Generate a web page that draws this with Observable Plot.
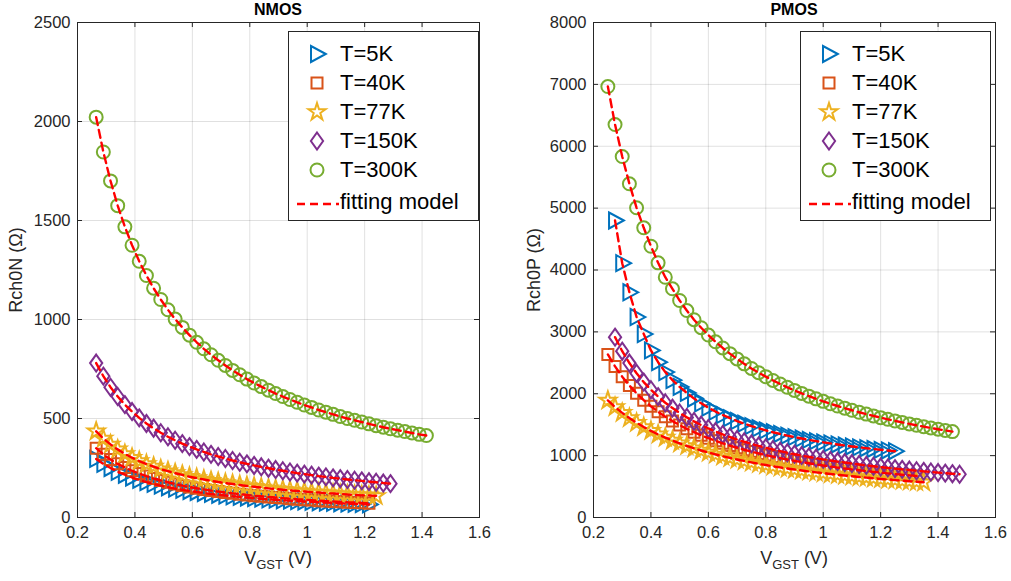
<!DOCTYPE html>
<html>
<head>
<meta charset="utf-8">
<script src="https://cdn.jsdelivr.net/npm/d3@7"></script>
<script src="https://cdn.jsdelivr.net/npm/@observablehq/plot@0.6"></script>
<style>
  body { margin: 0; background: #fff; font-family: "Liberation Sans", Arial, sans-serif; color: #262626; }
  #wrap { position: relative; width: 1011px; height: 581px; overflow: hidden; }
  .panel { position: absolute; top: 0; }
  .title { position: absolute; top: 1px; font-weight: bold; font-size: 16px; transform: translateX(-50%); color: #000; }
  .ylab { position: absolute; font-size: 18px; white-space: nowrap; transform: translate(-50%, -50%) rotate(-90deg); }
  .xlab { position: absolute; top: 548px; font-size: 18px; white-space: nowrap; transform: translateX(-50%); }
  .xlab sub { font-size: 13px; vertical-align: -5px; }
  .legend { position: absolute; border: 1px solid #262626; background: #fff; box-sizing: border-box; }
  .legend svg { position: absolute; left: 0; top: 0; }
</style>
</head>
<body>
<div id="wrap"></div>
<script>
// ---------------- data ----------------
const xTicks = [0.2, 0.4, 0.6, 0.8, 1.0, 1.2, 1.4, 1.6];
const yTicksN = [0, 500, 1000, 1500, 2000, 2500];
const yTicksP = [0, 1000, 2000, 3000, 4000, 5000, 6000, 7000, 8000];
const seriesNames = ["T=5K", "T=40K", "T=77K", "T=150K", "T=300K"];
const fitName = "fitting model";

// VGST grid (V) for NMOS
const vgstN = [0.265,0.29,0.315,0.34,0.365,0.39,0.415,0.44,0.465,0.49,0.515,0.54,0.565,0.59,0.615,0.64,0.665,0.69,0.715,0.74,0.765,0.79,0.815,0.84,0.865,0.89,0.915,0.94,0.965,0.99,1.015,1.04,1.065,1.09,1.115,1.14,1.165,1.19,1.215,1.24,1.265,1.29,1.315,1.34,1.365,1.39,1.415];
// NMOS Rch0N (ohm)
const nmos5K = [296,271,250,231,216,202,190,179,170,161,153,146,140,134,129,124,119,115,111,107,104,101,98,95,92,90,87,85,83,81,79,77,75,74,72,70,69,68,66];
const nmos40K = [350,319,293,271,253,236,222,209,197,187,178,169,161,154,148,142,136,131,126,122,118,114,110,107,104,101,98,95,92,90,88,85,83,81,79,77,76,74,72];
const nmos77K = [435,399,369,344,321,302,285,270,257,244,234,224,215,206,199,192,185,179,174,169,164,159,155,151,147,144,140,137,134,131,128,126,123,121,119,116,114,112,111,109];
const nmos150K = [780,714,658,611,570,535,503,475,451,428,408,390,373,358,344,331,319,308,298,288,279,271,263,256,249,242,236,230,224,219,214,209,205,200,196,192,188,185,181,178,174,171];
const nmos300K = [2022,1846,1700,1575,1468,1375,1294,1222,1158,1101,1049,1002,960,921,885,852,822,794,768,743,721,699,679,661,643,626,611,596,582,568,556,543,532,521,510,500,491,482,473,464,456,448,441,434,427,420,414];
const nmosStart = [0, 0, 0, 0, 0];

// VGST grid (V) for PMOS
const vgstP = [0.25,0.275,0.3,0.325,0.35,0.375,0.4,0.425,0.45,0.475,0.5,0.525,0.55,0.575,0.6,0.625,0.65,0.675,0.7,0.725,0.75,0.775,0.8,0.825,0.85,0.875,0.9,0.925,0.95,0.975,1.0,1.025,1.05,1.075,1.1,1.125,1.15,1.175,1.2,1.225,1.25,1.275,1.3,1.325,1.35,1.375,1.4,1.425,1.45,1.475];
// PMOS Rch0P (ohm)
const pmos5K = [4800,4110,3640,3240,2965,2700,2510,2350,2220,2110,2013,1924,1845,1775,1712,1656,1605,1559,1516,1477,1442,1409,1378,1350,1323,1299,1276,1254,1234,1215,1197,1180,1163,1148,1134,1120,1107,1094,1083,1071];
const pmos40K = [2635,2442,2276,2133,2007,1896,1798,1709,1630,1558,1493,1433,1379,1328,1282,1239,1199,1162,1127,1095,1065,1036,1009,984,960,937,916,895,876,858,840,823,807,792,778,764,750,738,725,713,702,691,681,670];
const pmos77K = [1892,1785,1691,1607,1531,1462,1400,1343,1291,1243,1198,1157,1119,1083,1050,1019,990,963,937,913,890,868,848,828,810,792,776,760,744,730,716,703,690,678,666,654,644,633,623,613,604,595,586,578,570];
const pmos150K = [2915,2688,2496,2331,2188,2064,1953,1855,1768,1689,1618,1553,1494,1439,1389,1343,1301,1261,1224,1190,1157,1127,1099,1072,1047,1023,1001,979,959,940,922,904,888,872,857,842,828,815,802,790,778,767,756,746,736,726,717,708,699];
const pmos300K = [6965,6351,5834,5393,5005,4682,4384,4116,3883,3696,3507,3345,3197,3067,2949,2840,2740,2648,2563,2483,2409,2340,2276,2215,2158,2104,2054,2006,1961,1918,1877,1838,1802,1767,1733,1701,1671,1642,1614,1587,1561,1537,1513,1490,1468,1447,1427,1407,1388];
const pmosStart = [1, 0, 0, 1, 0];

// ---------------- styles ----------------
const colors = ["#0072BD", "#D95319", "#EDB120", "#7E2F8E", "#77AC30"];
const rad = s => Math.sqrt(s / Math.PI);
const symbols = [
  { draw(c, s) { const r = rad(s); c.moveTo(r * 1.1, 0); c.lineTo(-r * 0.75, -r); c.lineTo(-r * 0.75, r); c.closePath(); } },
  { draw(c, s) { const r = rad(s); c.moveTo(-r, -r); c.lineTo(r, -r); c.lineTo(r, r); c.lineTo(-r, r); c.closePath(); } },
  { draw(c, s) { const r = rad(s), ri = r * 0.382; for (let i = 0; i < 10; i++) { const a = -Math.PI / 2 + i * Math.PI / 5, rr = i % 2 ? ri : r; const x = rr * Math.cos(a), y = rr * Math.sin(a); if (i) c.lineTo(x, y); else c.moveTo(x, y); } c.closePath(); } },
  { draw(c, s) { const r = rad(s); c.moveTo(0, -r); c.lineTo(r * 0.72, 0); c.lineTo(0, r); c.lineTo(-r * 0.72, 0); c.closePath(); } },
  { draw(c, s) { const r = rad(s); c.moveTo(r, 0); c.arc(0, 0, r, 0, 2 * Math.PI); c.closePath(); } }
];
const symR = [8, 5.5, 9, 8.5, 6.5];
const H = 581, MT = 22, MB = 64;
const axisColor = "#262626";

function makePanel(vgst, series, starts, yMax, yTicks, width, mLeft, mRight) {
  const rows = [];
  series.forEach((vals, i) => vals.forEach((r, j) => rows.push({ s: i, v: vgst[starts[i] + j], r })));
  const ph = H - MT - MB, pw = width - mLeft - mRight;
  const marks = [
    Plot.gridX(xTicks, { stroke: "#000", strokeOpacity: 0.12 }),
    Plot.gridY(yTicks, { stroke: "#000", strokeOpacity: 0.12 }),
    Plot.tickX(xTicks, { x: d => d, stroke: axisColor, insetTop: ph - 5 }),
    Plot.tickX(xTicks, { x: d => d, stroke: axisColor, insetBottom: ph - 5 }),
    Plot.tickY(yTicks, { y: d => d, stroke: axisColor, insetRight: pw - 5 }),
    Plot.tickY(yTicks, { y: d => d, stroke: axisColor, insetLeft: pw - 5 }),
    Plot.axisX(xTicks, { tickSize: 0, tickPadding: 9, tickFormat: d => String(d), label: null, fontSize: 16.5, fill: axisColor }),
    Plot.axisY(yTicks, { tickSize: 0, tickPadding: 7, tickFormat: d => String(d), label: null, fontSize: 16.5, fill: axisColor })
  ];
  series.forEach((vals, i) => {
    marks.push(Plot.dot(rows.filter(d => d.s === i), {
      x: "v", y: "r", symbol: symbols[i], r: symR[i], stroke: colors[i], fill: "none", strokeWidth: 2
    }));
  });
  marks.push(Plot.line(rows, { x: "v", y: "r", z: "s", stroke: "#FF0000", strokeWidth: 2.4, strokeDasharray: "8,5" }));
  marks.push(Plot.frame({ stroke: axisColor, strokeWidth: 1 }));
  return Plot.plot({
    width, height: H, marginLeft: mLeft, marginRight: mRight, marginTop: MT, marginBottom: MB,
    x: { domain: [0.2, 1.6] }, y: { domain: [0, yMax] },
    style: { fontFamily: "Liberation Sans, Arial, sans-serif", fontSize: "16px", color: axisColor, background: "transparent", overflow: "visible" },
    marks
  });
}

const wrap = document.getElementById("wrap");
function addPanel(svg, left) {
  const d = document.createElement("div");
  d.className = "panel"; d.style.left = left + "px";
  d.appendChild(svg); wrap.appendChild(d);
}
addPanel(makePanel(vgstN, [nmos5K, nmos40K, nmos77K, nmos150K, nmos300K], nmosStart, 2500, yTicksN, 500, 77, 21), 0);
addPanel(makePanel(vgstP, [pmos5K, pmos40K, pmos77K, pmos150K, pmos300K], pmosStart, 8000, yTicksP, 511, 93, 16), 500);

function addHTML(cls, html, style) {
  const d = document.createElement("div");
  d.className = cls; d.innerHTML = html;
  Object.assign(d.style, style); wrap.appendChild(d); return d;
}
addHTML("title", "NMOS", { left: "278px" });
addHTML("title", "PMOS", { left: "794px" });
addHTML("ylab", "Rch0N (Ω)", { left: "16px", top: "270px" });
addHTML("ylab", "Rch0P (Ω)", { left: "534px", top: "270px" });
addHTML("xlab", "V<sub>GST</sub> (V)", { left: "278px" });
addHTML("xlab", "V<sub>GST</sub> (V)", { left: "794px" });

function addLegend(left) {
  const box = addHTML("legend", "", { left: left + "px", top: "31px", width: "191px", height: "190px" });
  const rowsY = [22, 51, 80, 109, 138, 172];
  const svg = d3.select(box).append("svg").attr("width", 189).attr("height", 188);
  seriesNames.forEach((name, i) => {
    svg.append("path")
      .attr("transform", `translate(28,${rowsY[i]})`)
      .attr("d", d3.symbol(symbols[i], Math.PI * symR[i] * symR[i])())
      .attr("fill", "none").attr("stroke", colors[i]).attr("stroke-width", 2);
    const s = document.createElement("span");
    s.textContent = name; s.style.top = (rowsY[i] - 15) + "px";
    box.appendChild(s);
  });
  svg.append("line").attr("x1", 8).attr("x2", 50).attr("y1", rowsY[5]).attr("y2", rowsY[5])
    .attr("stroke", "#FF0000").attr("stroke-width", 2.4).attr("stroke-dasharray", "8,5");
  const s = document.createElement("span");
  s.textContent = fitName; s.style.top = (rowsY[5] - 17) + "px";
  box.appendChild(s);
  box.querySelectorAll("span").forEach(sp => { sp.style.position = "absolute"; sp.style.left = "51px"; sp.style.fontSize = "22px"; sp.style.lineHeight = "30px"; sp.style.color = "#000"; sp.style.whiteSpace = "nowrap"; });
}
addLegend(288);
addLegend(800);
</script>
</body>
</html>
